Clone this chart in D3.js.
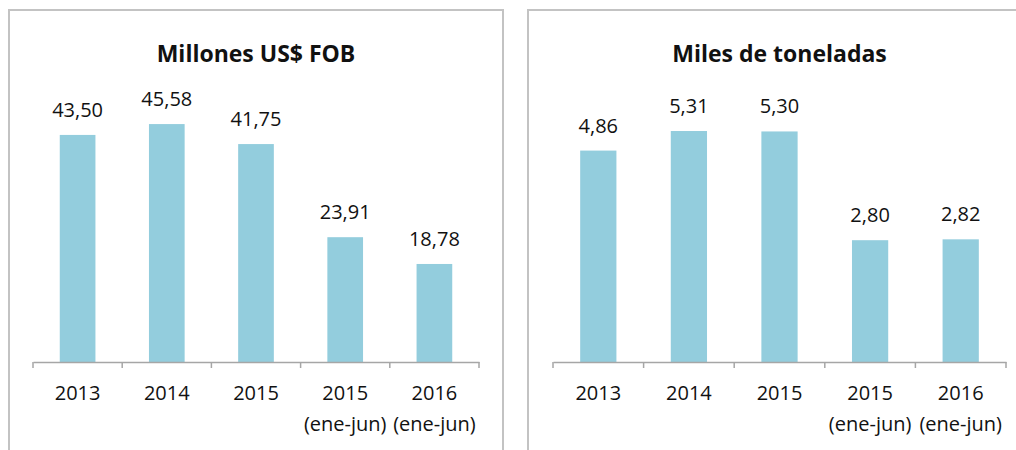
<!DOCTYPE html>
<html>
<head>
<meta charset="utf-8">
<script src="https://cdn.jsdelivr.net/npm/d3@7"></script>
<style>
  body { margin: 0; background: #fff; }
  text { font-family: "Open Sans", sans-serif; fill: #111; }
</style>
</head>
<body>
<svg id="chart" width="1016" height="450"></svg>
<script>
const categories = ['2013', '2014', '2015', '2015 (ene-jun)', '2016 (ene-jun)'];
const valuesUsd = [43.50, 45.58, 41.75, 23.91, 18.78];
const valuesTon = [4.86, 5.31, 5.30, 2.80, 2.82];
const titles = ['Millones US$ FOB', 'Miles de toneladas'];

const barColor = '#93cddd';
const axisColor = '#a6a6a6';
const fmt = (v) => v.toFixed(2).replace('.', ',');

const svg = d3.select('#chart');

const panels = [
  { title: titles[0], values: valuesUsd, yMax: 50, box: [9, 10, 503], plot: [33, 479] },
  { title: titles[1], values: valuesTon, yMax: 6, box: [528, 10, 1040], plot: [553, 1006] },
];

const baseY = 362;
const topY = 101;

panels.forEach((p) => {
  const g = svg.append('g');

  // frame (bottom runs off the page)
  g.append('rect')
    .attr('x', p.box[0])
    .attr('y', p.box[1])
    .attr('width', p.box[2] - p.box[0])
    .attr('height', 500)
    .attr('fill', 'none')
    .attr('stroke', '#c3c3c3')
    .attr('stroke-width', 2);

  const x = d3.scaleBand()
    .domain(categories)
    .range(p.plot)
    .paddingInner(0.6)
    .paddingOuter(0.3);

  const y = d3.scaleLinear()
    .domain([0, p.yMax])
    .range([baseY, topY]);

  g.append('text')
    .attr('x', (p.plot[0] + p.plot[1]) / 2)
    .attr('y', 62)
    .attr('text-anchor', 'middle')
    .attr('font-size', 23)
    .attr('font-weight', 'bold')
    .text(p.title);

  g.selectAll('rect.bar')
    .data(p.values)
    .join('rect')
    .attr('class', 'bar')
    .attr('x', (d, i) => x(categories[i]))
    .attr('y', (d) => y(d))
    .attr('width', x.bandwidth())
    .attr('height', (d) => baseY - y(d))
    .attr('fill', barColor);

  g.selectAll('text.val')
    .data(p.values)
    .join('text')
    .attr('class', 'val')
    .attr('x', (d, i) => x(categories[i]) + x.bandwidth() / 2)
    .attr('y', (d) => y(d) - 18)
    .attr('text-anchor', 'middle')
    .attr('font-size', 20)
    .text(fmt);

  // category axis: labels from d3.axisBottom, ticks on band edges
  const axis = g.append('g')
    .attr('transform', `translate(0,${baseY})`)
    .call(d3.axisBottom(x).tickSize(0).tickSizeOuter(0));
  axis.select('.domain').attr('stroke', axisColor).attr('stroke-width', 1.5);
  axis.selectAll('.tick text')
    .attr('font-size', 20)
    .attr('font-family', '"Open Sans", sans-serif')
    .attr('fill', '#111')
    .attr('dy', null)
    .attr('y', 0)
    .each(function (d) {
      const parts = d.split(' ');
      const t = d3.select(this).text(null);
      parts.forEach((s, k) => {
        t.append('tspan')
          .attr('x', 0)
          .attr('y', k === 0 ? 38 : 69)
          .text(s);
      });
    });

  const edges = d3.range(categories.length + 1).map((i) => p.plot[0] + i * x.step());
  g.selectAll('line.edge')
    .data(edges)
    .join('line')
    .attr('class', 'edge')
    .attr('x1', (d) => d)
    .attr('x2', (d) => d)
    .attr('y1', baseY)
    .attr('y2', baseY + 6)
    .attr('stroke', axisColor)
    .attr('stroke-width', 1.5);
});
</script>
</body>
</html>
